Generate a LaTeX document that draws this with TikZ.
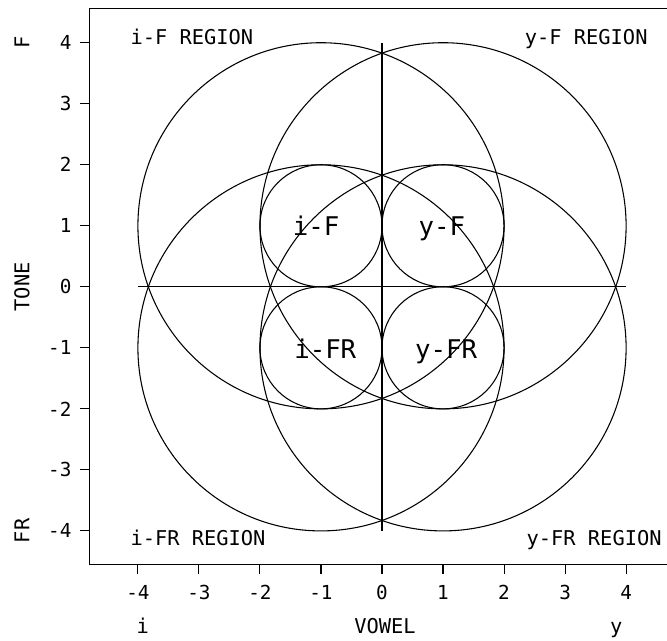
\documentclass[tikz,border=0pt]{standalone}
\usepackage{fontspec}
\setmainfont{DejaVu Sans Mono}
\usetikzlibrary{positioning}
\begin{document}
\begin{tikzpicture}[x=1cm,y=1cm,line width=0.5pt,
        ticklabel/.style={inner sep=0pt, font=\fontsize{9}{10}\selectfont},
        regionlabel/.style={inner sep=0pt, font=\fontsize{9.5}{11}\selectfont},
        zonelabel/.style={inner sep=0pt, anchor=base, font=\fontsize{12}{14}\selectfont},
        axislabel/.style={inner sep=0pt, font=\fontsize{9.5}{11}\selectfont}]
        \useasboundingbox (-6.26,-5.80) rectangle (4.67,4.70);

        % frame and ticks
        \draw (4.67,4.56) -- (-4.80,4.56) -- (-4.80,-4.55) -- (4.67,-4.55);
        \foreach \v in {-4,...,4} {
            \draw (\v,-4.55) -- (\v,-4.70);
            \node (xt\v) [ticklabel, anchor=north] at (\v,-4.88) {\v};
            \draw (-4.80,\v) -- (-4.95,\v);
            \node (yt\v) [ticklabel, anchor=east] at (-5.08,\v) {\v};
        }

        % axes through the origin
        \draw (-4,0) -- (4,0);
        \draw (0,-4) -- (0,4);

        % small and large circles
        \foreach \a in {-1,1}
            \foreach \b in {-1,1} {
                \draw (\a,\b) circle (1);
                \draw (\a,\b) circle (3);
            }

        \node (ifr) [regionlabel, anchor=base west] at (-4.13,3.97) {i-F REGION};
        \node (yfr) [regionlabel, anchor=base east] at (4.36,3.97) {y-F REGION};
        \node (ifrr) [regionlabel, anchor=base west] at (-4.13,-4.24) {i-FR REGION};
        \node (yfrr) [regionlabel, anchor=base east] at (4.59,-4.24) {y-FR REGION};

        \node (if) [zonelabel] at (-1.08,0.84) {i-F};
        \node (yf) [zonelabel] at (0.98,0.84) {y-F};
        \node (ifx) [zonelabel] at (-0.93,-1.18) {i-FR};
        \node (yfx) [zonelabel] at (1.05,-1.18) {y-FR};

        \node (tone) [axislabel, rotate=90] at (-5.90,0) {TONE};
        \node (ftop) [axislabel, rotate=90] at (-5.90,4) {F};
        \node (fbot) [axislabel, rotate=90] at (-5.90,-4) {FR};
        \node (vowel) [axislabel, anchor=base] at (0.05,-5.68) {VOWEL};
        \node (vi) [axislabel, anchor=base] at (-3.92,-5.68) {i};
        \node (vy) [axislabel, anchor=base] at (3.84,-5.68) {y};
    \end{tikzpicture}
\end{document}
